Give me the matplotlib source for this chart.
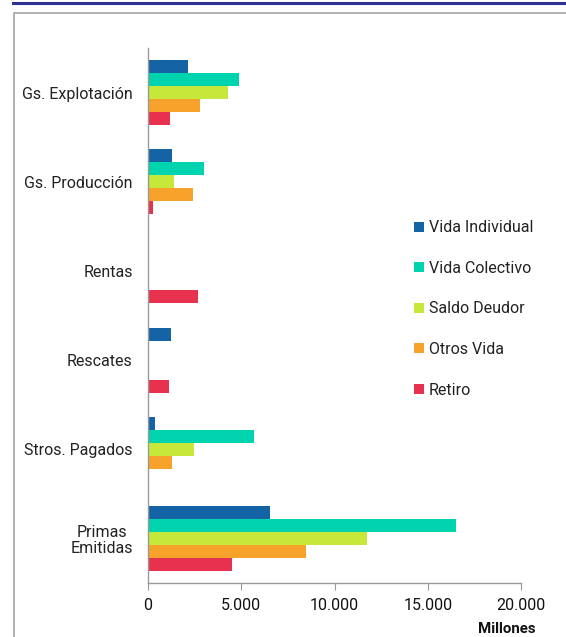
import matplotlib.pyplot as plt
import matplotlib.ticker as mticker
from matplotlib.patches import Rectangle, Patch
from matplotlib.lines import Line2D

plt.rcParams['font.family'] = ['Roboto', 'DejaVu Sans']

# categories, top to bottom
categorias = ['Gs. Explotación', 'Gs. Producción', 'Rentas', 'Rescates',
              'Stros. Pagados', 'Primas\nEmitidas']
series = ['Vida Individual', 'Vida Colectivo', 'Saldo Deudor', 'Otros Vida', 'Retiro']
colores = ['#1464a5', '#00d4ae', '#c6e83a', '#f7a22b', '#e8314f']

# values in millions
vida_individual = [2150, 1300, 0, 1250, 390, 6520]
vida_colectivo = [4880, 3000, 0, 80, 5670, 16530]
saldo_deudor = [4290, 1380, 0, 0, 2480, 11720]
otros_vida = [2800, 2410, 0, 0, 1300, 8470]
retiro = [1160, 270, 2680, 1130, 80, 4500]
valores = [vida_individual, vida_colectivo, saldo_deudor, otros_vida, retiro]

x_ticks = [0, 5000, 10000, 15000, 20000]

fig = plt.figure(figsize=(5.66, 6.37), dpi=100)
ax = fig.add_axes([148/566, 54/637, 373/566, 535/637])

n = len(categorias)
grupo = 0.73
h = grupo / len(series)
for j, (nombre, vals, col) in enumerate(zip(series, valores, colores)):
    ys = [i - grupo/2 + h*(j + 0.5) for i in range(n)]
    ax.barh(ys, vals, height=h, color=col, label=nombre)

ax.set_ylim(n - 0.5, -0.5)
ax.set_yticks(range(n))
ax.set_yticklabels(categorias, fontsize=11.5, color='#222222')
for lbl in ax.get_yticklabels():
    lbl.set_multialignment('center')
    lbl.set_linespacing(1.05)
ax.tick_params(axis='y', length=0, pad=11)
ax.set_xlim(0, 20000)
ax.set_xticks(x_ticks)
ax.xaxis.set_major_formatter(mticker.FuncFormatter(lambda v, p: f'{int(v):,}'.replace(',', '.')))
ax.tick_params(axis='x', labelsize=11.5, colors='#999999', labelcolor='#111111', length=5, pad=6)

for s in ['top', 'right']:
    ax.spines[s].set_visible(False)
for s in ['left', 'bottom']:
    ax.spines[s].set_color('#999999')
    ax.spines[s].set_linewidth(1.0)

fig.text(536/566, 1 - 629/637, 'Millones', ha='right', va='center',
         fontsize=10.8, fontweight='bold', color='#111111')

handles = [Patch(facecolor=c, edgecolor='none') for c in colores]
fig.legend(handles, series, loc='upper left', bbox_to_anchor=(400/566, 1 - 206/637),
           frameon=False, fontsize=11.5, labelspacing=1.6, handlelength=0.6,
           handleheight=0.6, handletextpad=0.32, labelcolor='#222222')

# outer frame and blue rule on top
fig.add_artist(Rectangle((14/566, -0.01), 1.0, 1 - 13/637 + 0.01,
                         transform=fig.transFigure, fill=False,
                         edgecolor='#a6a6a6', linewidth=1.2))
fig.add_artist(Line2D([13/566, 1.0], [1 - 3/637, 1 - 3/637],
                      transform=fig.transFigure, color='#2e3192', linewidth=2.2))

fig.savefig('out.png', dpi=100)
